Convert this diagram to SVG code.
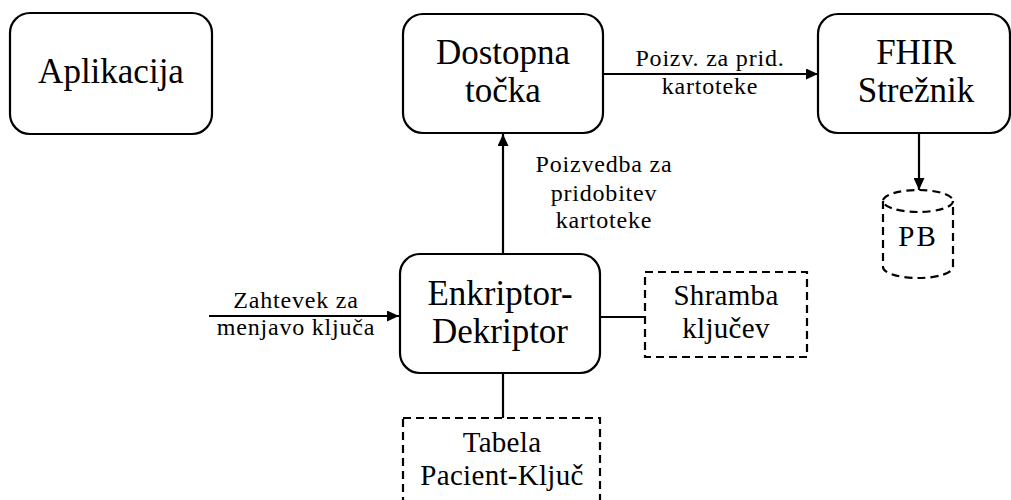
<svg xmlns="http://www.w3.org/2000/svg" width="1011" height="500" viewBox="0 0 1011 500">
  <style>
    .box { fill: #fff; stroke: #000; stroke-width: 2.2; }
    .dash { fill: none; stroke: #000; stroke-width: 2.2; stroke-dasharray: 8 5; }
    .edge { fill: none; stroke: #000; stroke-width: 2.2; }
    .t { font-family: "Liberation Serif", "Times New Roman", serif; fill: #000; text-anchor: middle; }
    .big { font-size: 35px; }
    .mid { font-size: 29px; letter-spacing: 0.3px; }
    .lbl { font-size: 24px; letter-spacing: 0.8px; }
  </style>
  <defs>
    <marker id="arrow" markerUnits="userSpaceOnUse" markerWidth="12" markerHeight="11" refX="12" refY="5.5" orient="auto">
      <path d="M0,0 L12,5.5 L0,11 z" fill="#000"/>
    </marker>
  </defs>

  <rect width="1011" height="500" fill="#fff"/>

  <!-- connectors -->
  <g id="connectors">
    <line class="edge" x1="603" y1="74" x2="818" y2="74" marker-end="url(#arrow)"/>
    <text class="t lbl" x="710" y="66">Poizv. za prid.</text>
    <text class="t lbl" x="710" y="94">kartoteke</text>

    <line class="edge" x1="919" y1="133" x2="919" y2="190" marker-end="url(#arrow)"/>

    <line class="edge" x1="503" y1="254" x2="503" y2="134" marker-end="url(#arrow)"/>
    <text class="t lbl" x="604" y="172">Poizvedba za</text>
    <text class="t lbl" x="604" y="201">pridobitev</text>
    <text class="t lbl" x="604" y="228">kartoteke</text>

    <line class="edge" x1="209" y1="316" x2="399" y2="316" marker-end="url(#arrow)"/>
    <text class="t lbl" x="296" y="308">Zahtevek za</text>
    <text class="t lbl" x="296" y="335">menjavo ključa</text>

    <line class="edge" x1="600" y1="317" x2="645" y2="317"/>
    <line class="edge" x1="503" y1="373" x2="503" y2="418"/>
  </g>

  <!-- nodes -->
  <g id="aplikacija">
    <rect class="box" x="10" y="13" width="202" height="121" rx="20"/>
    <text class="t big" x="111" y="83">Aplikacija</text>
  </g>

  <g id="dostopna-tocka">
    <rect class="box" x="403" y="14" width="200" height="119" rx="20"/>
    <text class="t big" x="503" y="64">Dostopna</text>
    <text class="t big" x="503" y="102">točka</text>
  </g>

  <g id="fhir-streznik">
    <rect class="box" x="818" y="14" width="192" height="119" rx="20"/>
    <text class="t big" x="916" y="64">FHIR</text>
    <text class="t big" x="916" y="102">Strežnik</text>
  </g>

  <g id="pb">
    <ellipse class="dash" cx="918" cy="201" rx="35" ry="11"/>
    <path class="dash" d="M883,201 V267 A35,11 0 0 0 953,267 V201"/>
    <text class="t mid" x="918" y="246" style="letter-spacing:2px">PB</text>
  </g>

  <g id="enkriptor-dekriptor">
    <rect class="box" x="400" y="254" width="200" height="119" rx="20"/>
    <text class="t big" x="500" y="305">Enkriptor-</text>
    <text class="t big" x="500" y="343">Dekriptor</text>
  </g>

  <g id="shramba-kljucev">
    <rect class="dash" x="645" y="272" width="162" height="85"/>
    <text class="t mid" x="726" y="305">Shramba</text>
    <text class="t mid" x="726" y="338">ključev</text>
  </g>

  <g id="tabela-pacient-kljuc">
    <rect class="dash" x="403" y="418" width="197" height="100"/>
    <text class="t mid" x="502" y="452">Tabela</text>
    <text class="t mid" x="502" y="485">Pacient-Ključ</text>
  </g>
</svg>
